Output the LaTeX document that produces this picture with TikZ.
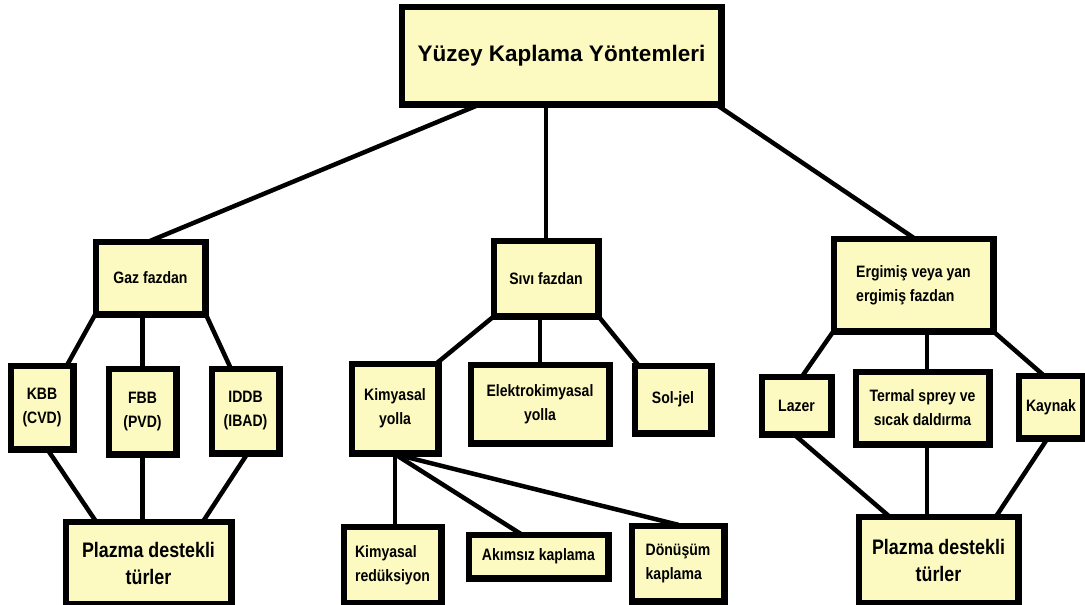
\documentclass[tikz,border=0pt]{standalone}
\usepackage{fontspec}
\setmainfont{Liberation Sans}[FakeStretch=0.85]
\newfontfamily\titlefont{Liberation Sans}
\definecolor{boxfill}{HTML}{FCFAC0}
\tikzset{
  box/.style={draw=black, fill=boxfill, line width=4.5pt, inner sep=0pt, font=\bfseries\fontsize{16.5}{24}\selectfont, align=center},
  bigtxt/.style={font=\bfseries\fontsize{21}{27}\selectfont},
  conn/.style={line width=4.5pt, line cap=round}
}
\begin{document}
\begin{tikzpicture}[x=1pt,y=-1pt]
\useasboundingbox (0,0) rectangle (1085,605);
% nodes
\node[box, minimum width=317pt, minimum height=95pt, font=\titlefont\bfseries\fontsize{22.5}{27}\selectfont] (top) at (561.5,55.5) {\raisebox{4pt}{Yüzey Kaplama Yöntemleri}};
\node[box, minimum width=107pt, minimum height=70pt] (gaz) at (150.5,278) {Gaz fazdan};
\node[box, minimum width=60pt, minimum height=81pt] (kbb) at (42,407.5) {KBB\\(CVD)};
\node[box, minimum width=65pt, minimum height=83pt] (fbb) at (142.5,411.5) {FBB\\(PVD)};
\node[box, minimum width=65pt, minimum height=82pt] (iddb) at (245.5,411) {IDDB\\(IBAD)};
\node[box, bigtxt, minimum width=163pt, minimum height=80pt] (plzL) at (148.5,563) {Plazma destekli\\türler};
\node[box, minimum width=102pt, minimum height=73pt] (siv) at (546,278.5) {Sıvı fazdan};
\node[box, minimum width=84pt, minimum height=87pt] (kim) at (395,408.5) {Kimyasal\\yolla};
\node[box, minimum width=136pt, minimum height=76pt] (ele) at (540,404) {Elektrokimyasal\\yolla};
\node[box, minimum width=74pt, minimum height=65pt] (sol) at (673,399.5) {Sol-jel};
\node[box, minimum width=95pt, minimum height=74pt, align=left] (kred) at (392.5,565) {Kimyasal\\redüksiyon};
\node[box, minimum width=137pt, minimum height=41pt] (aki) at (538.5,556.5) {Akımsız kaplama};
\node[box, minimum width=90pt, minimum height=73pt, align=left] (don) at (678,563.5) {Dönüşüm\\kaplama};
\node[box, minimum width=157pt, minimum height=90pt, align=left] (erg) at (913.5,285) {Ergimiş veya yan\\ergimiş fazdan};
\node[box, minimum width=67pt, minimum height=55pt] (laz) at (796.5,405.5) {Lazer};
\node[box, minimum width=131pt, minimum height=70pt] (ter) at (922.5,408) {Termal sprey ve\\sıcak daldırma};
\node[box, minimum width=62pt, minimum height=60pt] (kay) at (1051,407) {Kaynak};
\node[box, bigtxt, minimum width=157pt, minimum height=84pt] (plzR) at (938.5,560) {Plazma destekli\\türler};
% connectors
\draw[conn] ([xshift=77pt]top.south west) -- (gaz.north);
\draw[conn] (siv.north) -- (siv.north |- top.south);
\draw[conn] ([xshift=-5pt]top.south east) -- (erg.north);
\draw[conn] (gaz.south west) -- ([xshift=-7pt]kbb.north east);
\draw[conn] (fbb.north) -- (fbb.north |- gaz.south);
\draw[conn] (gaz.south east) -- ([xshift=-15pt]iddb.north);
\draw[conn] ([xshift=6pt]kbb.south) -- ([xshift=-53pt]plzL.north);
\draw[conn] (fbb.south) -- (fbb.south |- plzL.north);
\draw[conn] ([xshift=1.5pt]iddb.south) -- ([xshift=55pt]plzL.north);
\draw[conn] (siv.south west) -- ([xshift=-2pt]kim.north east);
\draw[conn] (ele.north) -- (ele.north |- siv.south);
\draw[conn] (siv.south east) -- ([xshift=-35pt]sol.north);
\coordinate (kimb) at (kim.south);
\draw[conn] (kimb) -- (kimb |- kred.north);
\draw[conn] (kimb) -- ([xshift=-18pt]aki.north);
\draw[conn] (kimb) -- (don.north);
\draw[conn] (erg.south west) -- ([xshift=6pt]laz.north);
\draw[conn] ([xshift=4.5pt]ter.north) -- ([xshift=4.5pt]ter.north |- erg.south);
\draw[conn] (erg.south east) -- ([xshift=-8pt]kay.north);
\draw[conn] ([xshift=-1.5pt]laz.south) -- ([xshift=-50pt]plzR.north);
\draw[conn] ([xshift=4.5pt]ter.south) -- ([xshift=4.5pt]ter.south |- plzR.north);
\draw[conn] ([xshift=-4pt]kay.south) -- ([xshift=58pt]plzR.north);
% redraw boxes on top of line ends
\foreach \n in {top,gaz,kbb,fbb,iddb,plzL,siv,kim,ele,sol,kred,aki,don,erg,laz,ter,kay,plzR}{
  \draw[line width=4.5pt] (\n.north west) rectangle (\n.south east);
}
\end{tikzpicture}
\end{document}
